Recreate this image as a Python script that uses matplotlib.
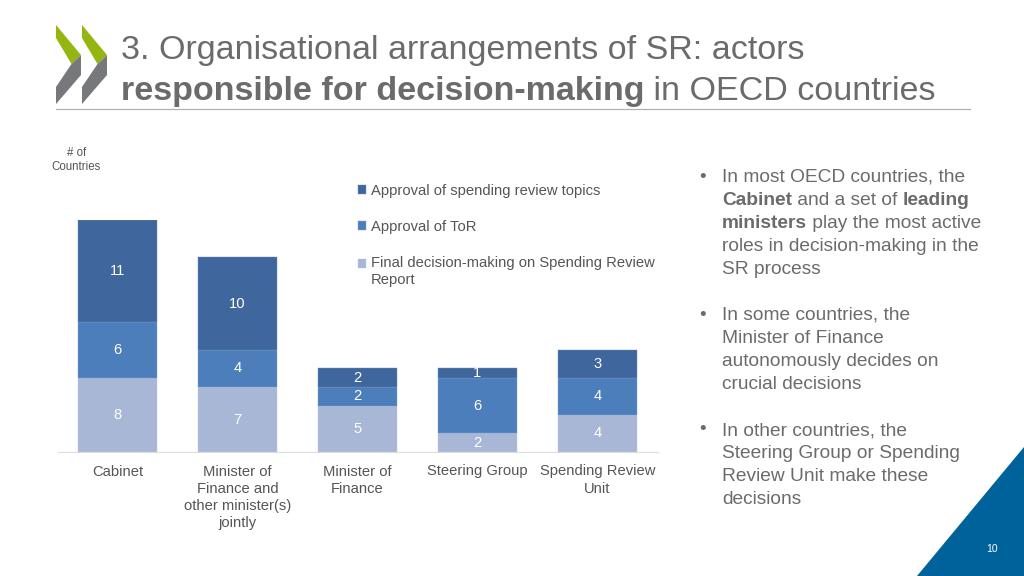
import matplotlib
matplotlib.use('Agg')
import matplotlib.pyplot as plt
from matplotlib.patches import Polygon
import numpy as np

plt.rcParams['font.family'] = ['Liberation Sans', 'DejaVu Sans']

categories = ['Cabinet', 'Minister of\nFinance and\nother minister(s)\njointly', 'Minister of\nFinance',
              'Steering Group', 'Spending Review\nUnit']
final_report = [8, 7, 5, 2, 4]
approval_tor = [6, 4, 2, 6, 4]
approval_topics = [11, 10, 2, 1, 3]

title_line1 = [('3. Organisational arrangements of SR: actors', False)]
title_line2 = [('responsible for decision-making', True), (' in OECD countries', False)]

bullets = [
    (176, True, [('In most OECD countries, the', False)]),
    (199, False, [('Cabinet', True), (' and a set of ', False), ('leading', True)]),
    (222, False, [('ministers', True), (' play the most active', False)]),
    (245, False, [('roles in decision-making in the', False)]),
    (268, False, [('SR process', False)]),
    (314, True, [('In some countries, the', False)]),
    (337, False, [('Minister of Finance', False)]),
    (360, False, [('autonomously decides on', False)]),
    (383, False, [('crucial decisions', False)]),
    (429, True, [('In other countries, the', False)]),
    (452, False, [('Steering Group or Spending', False)]),
    (475, False, [('Review Unit make these', False)]),
    (498, False, [('decisions', False)]),
]

GRAY = '#6b6b6b'
W, H = 1024, 576
fig = plt.figure(figsize=(W / 100, H / 100), dpi=100)

# background layer in pixel coordinates, for the slide furniture
bg = fig.add_axes([0, 0, 1, 1])
bg.set_xlim(0, W)
bg.set_ylim(H, 0)
bg.axis('off')

for dx in (0, 26):
    bg.add_patch(Polygon([(56 + dx, 25), (81 + dx, 55), (71.5 + dx, 64), (56 + dx, 38)], fc='#95b511', ec='none'))
    bg.add_patch(Polygon([(81 + dx, 55), (81 + dx, 75), (56 + dx, 104), (56 + dx, 87), (71.5 + dx, 64)],
                         fc='#77787b', ec='none'))
bg.plot([56, 970], [109, 109], color='#b0b0b0', lw=0.9)
bg.add_patch(Polygon([(917, 576), (1024, 447), (1024, 576)], fc='#00629b', ec='none'))
bg.text(992, 549, '10', color='white', fontsize=7.5, ha='center', va='center')
bg.text(76.5, 160, '# of\nCountries', color='#555555', fontsize=8.3, ha='center', va='center', linespacing=1.3)


def rich_line(x, y, runs, size, color):
    # draws bold/regular pieces one after the other on a shared baseline
    r = fig.canvas.get_renderer()
    for s, is_bold in runs:
        t = bg.text(x, y, s, fontsize=size, color=color, va='baseline', ha='left',
                    fontweight='bold' if is_bold else 'normal')
        # trailing spaces are not measured reliably, so measure with a guard char
        g = bg.text(0, 0, s + '|', fontsize=size, fontweight='bold' if is_bold else 'normal')
        g2 = bg.text(0, 0, '|', fontsize=size, fontweight='bold' if is_bold else 'normal')
        x += g.get_window_extent(r).width - g2.get_window_extent(r).width
        g.remove()
        g2.remove()


rich_line(121, 59, title_line1, 24.5, GRAY)
rich_line(121, 100, title_line2, 24.5, GRAY)

for y, has_bullet, runs in bullets:
    if has_bullet:
        bg.text(699, y + 5.5, '\u2022', fontsize=13.5, color=GRAY, ha='left', va='baseline')
    rich_line(722, y + 6, runs, 13.8, GRAY)

# chart
ax = fig.add_axes([57.5 / W, 1 - 452 / H, 600 / W, 232 / H])
x = np.arange(len(categories))
bar_w = 0.655
bot2 = np.array(final_report)
bot3 = bot2 + np.array(approval_tor)
b1 = ax.bar(x, final_report, bar_w, color='#a9b7d6', edgecolor='#bcc8e0', linewidth=0.3,
            label='Final decision-making on Spending Review\nReport')
b2 = ax.bar(x, approval_tor, bar_w, bottom=bot2, color='#4c7ebb', edgecolor='#7fa2cf', linewidth=0.3,
            label='Approval of ToR')
b3 = ax.bar(x, approval_topics, bar_w, bottom=bot3, color='#40679d', edgecolor='#6f8fb8', linewidth=0.3,
            label='Approval of spending review topics')
for b in (b1, b2, b3):
    ax.bar_label(b, label_type='center', color='white', fontsize=10.6)

ax.set_xlim(-0.5, 4.5)
ax.set_ylim(0, 25)
ax.set_yticks([])
ax.set_xticks(x)
ax.set_xticklabels(categories, fontsize=10.6, color='#555555', linespacing=1.28)
ax.tick_params(axis='x', length=0, pad=9)
ax.patch.set_alpha(0)
for s in ('top', 'right', 'left'):
    ax.spines[s].set_visible(False)
ax.spines['bottom'].set_color('#dddddd')
ax.spines['bottom'].set_linewidth(0.8)

handles = [b3, b2, b1]
leg = ax.legend(handles, [h.get_label() for h in handles], frameon=False, fontsize=10.6, loc='upper left',
                bbox_to_anchor=(0.5, 1.155), borderaxespad=0, borderpad=0, labelspacing=1.5,
                handlelength=0.55, handleheight=0.55, handletextpad=0.35, labelcolor='#555555')
for t in leg.get_texts():
    t.set_linespacing(1.28)
# the two-line entry keeps its square next to the first line
last = leg.get_patches()[2]
last.set_y(last.get_y() + 6.2)

fig.savefig('out.png', dpi=100)
print('Done!')
